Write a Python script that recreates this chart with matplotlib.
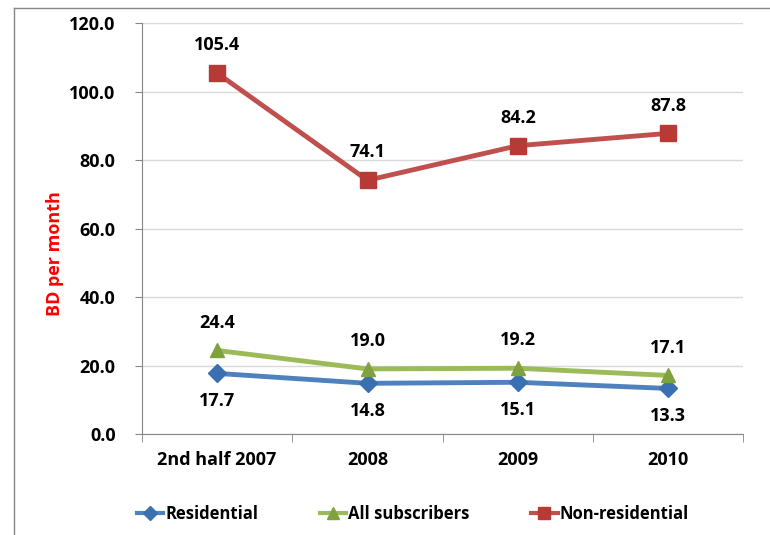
import matplotlib
matplotlib.use("Agg")
import matplotlib.pyplot as plt
from matplotlib.lines import Line2D

categories = ["2nd half 2007", "2008", "2009", "2010"]
residential = [17.7, 14.8, 15.1, 13.3]
all_subscribers = [24.4, 19.0, 19.2, 17.1]
non_residential = [105.4, 74.1, 84.2, 87.8]
yticks = [0, 20, 40, 60, 80, 100, 120]

plt.rcParams['font.family'] = ['Open Sans', 'DejaVu Sans']
plt.rcParams['font.weight'] = 'bold'

fig = plt.figure(figsize=(7.7, 5.35), dpi=100)
ax = fig.add_axes([0.1844, 0.1888, 0.781, 0.768])

x = list(range(len(categories)))
series = [
    ("Residential", residential, "#4F81BD", "D", "#3A6FB0", -1),
    ("All subscribers", all_subscribers, "#9BBB59", "^", "#7FA23F", 1),
    ("Non-residential", non_residential, "#C0504D", "s", "#B83A36", 1),
]
handles = []
for name, vals, col, mk, mcol, side in series:
    ms = 11 if mk == "s" else (10 if mk == "^" else 9)
    ax.plot(x, vals, color=col, lw=3.5, marker=mk, markersize=ms,
            markerfacecolor=mcol, markeredgecolor=mcol, solid_capstyle='round')
    handles.append(Line2D([], [], color=col, lw=3, marker=mk, markersize=ms - 2,
                          markerfacecolor=mcol, markeredgecolor=mcol, label=name))
    for xi, v in zip(x, vals):
        ax.annotate(f"{v:.1f}", (xi, v), xytext=(0, 20 * side),
                    textcoords="offset points", ha="center",
                    va="center", fontsize=13, fontweight="bold", color="black")

ax.set_xlim(-0.5, len(categories) - 0.5)
ax.set_ylim(0, 120)
ax.set_yticks(yticks)
ax.set_yticklabels([f"{t:.1f}" for t in yticks], fontsize=13, fontweight="bold")
ax.set_xticks(x)
ax.set_xticklabels(categories, fontsize=13, fontweight="bold")
ax.tick_params(axis="x", length=0, pad=12)
ax.set_xticks([i - 0.5 for i in range(len(categories) + 1)], minor=True)
ax.tick_params(axis="x", which="minor", length=6, color="#868686", direction="out")
ax.tick_params(axis="y", length=5, color="#868686", pad=14)
ax.grid(axis="y", color="#D9D9D9", lw=1)
ax.set_axisbelow(True)
for s in ["top", "right"]:
    ax.spines[s].set_visible(False)
for s in ["left", "bottom"]:
    ax.spines[s].set_color("#868686")
ax.set_ylabel("BD per month", color="#FF0000", fontsize=13, fontweight="bold")
ax.yaxis.set_label_coords(-0.13, 0.438)

fig.legend(handles=handles, loc="center", bbox_to_anchor=(0.536, 0.04), ncol=3,
           frameon=False, handlelength=1.6, handletextpad=0.1,
           columnspacing=3.7, prop={'weight': 'bold', 'size': 12})

# outer frame (left and top edges)
fig.add_artist(Line2D([14/770, 14/770], [0, 1 - 8/535], transform=fig.transFigure,
                      color="#868686", lw=1))
fig.add_artist(Line2D([14/770, 1], [1 - 8/535, 1 - 8/535], transform=fig.transFigure,
                      color="#868686", lw=1))

fig.savefig("out.png", dpi=100)
